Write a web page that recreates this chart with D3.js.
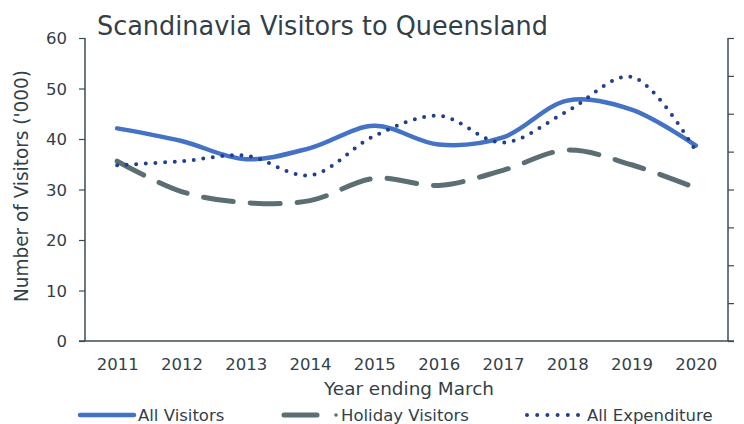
<!DOCTYPE html>
<html><head><meta charset="utf-8">
<script src="https://cdn.jsdelivr.net/npm/d3@7"></script>
<style>body{margin:0;background:#fff}svg{display:block}text{font-family:"DejaVu Sans",Verdana,sans-serif;fill:#333f48}</style>
</head><body>
<svg id="c" width="744" height="424"></svg>
<script>
const years = ["2011","2012","2013","2014","2015","2016","2017","2018","2019","2020"];
const allVisitors = [42.1, 39.6, 36.0, 38.2, 42.6, 38.9, 40.3, 47.6, 45.8, 38.7];
const holidayVisitors = [35.6, 29.6, 27.4, 27.8, 32.2, 30.8, 33.8, 37.8, 34.9, 30.3];
const allExpenditure = [34.8, 35.6, 36.7, 32.8, 40.6, 44.6, 39.3, 45.5, 52.3, 37.6];
const yTicks = [0, 10, 20, 30, 40, 50, 60];
const rightTicks = [0, 1, 2, 3, 4, 5, 6, 7, 8];
const seriesNames = ["All Visitors", "Holiday Visitors", "All Expenditure"];

const svg = d3.select("#c");
const L = 85, R = 728, T = 38, B = 341;
const x = d3.scalePoint().domain(years).range([L, R]).padding(0.5);
const y = d3.scaleLinear().domain([0, 60]).range([B, T]);
const y2 = d3.scaleLinear().domain([0, 8]).range([B, T]);
const axisColor = "#3d4a52";

// left axis
const ga = svg.append("g").attr("transform", `translate(${L},0)`)
  .call(d3.axisLeft(y).tickValues(yTicks).tickSize(6).tickPadding(12));
ga.select(".domain").attr("stroke", axisColor).attr("stroke-width", 1.5).attr("d", `M0,${T}V${B}`);
ga.selectAll(".tick line").attr("stroke", axisColor).attr("stroke-width", 1.2);
ga.selectAll(".tick text").style("font-size", "16.5px").style("fill", "#333f48").attr("dy", "0.35em");

// right axis
const gr = svg.append("g").attr("transform", `translate(${R},0)`)
  .call(d3.axisRight(y2).tickValues(rightTicks).tickSize(6).tickFormat(""));
gr.select(".domain").attr("stroke", axisColor).attr("stroke-width", 1.5).attr("d", `M0,${T}V${B}`);
gr.selectAll(".tick line").attr("stroke", axisColor).attr("stroke-width", 1.2);

// bottom axis
const gb = svg.append("g").attr("transform", `translate(0,${B})`)
  .call(d3.axisBottom(x).tickSize(0).tickPadding(17));
gb.select(".domain").attr("stroke", axisColor).attr("stroke-width", 1.5).attr("d", `M${L-6},0H${R+6}`);
gb.selectAll(".tick text").style("font-size", "16.5px").style("fill", "#333f48");

// lines
const line = d3.line().x((d, i) => x(years[i])).y(d => y(d)).curve(d3.curveCatmullRom.alpha(0.5));
svg.append("path").datum(holidayVisitors).attr("d", line).attr("fill", "none")
  .attr("stroke", "#5a6e74").attr("stroke-width", 5).attr("stroke-linecap", "round")
  .attr("stroke-dasharray", "30 17");
svg.append("path").datum(allVisitors).attr("d", line).attr("fill", "none")
  .attr("stroke", "#4472c4").attr("stroke-width", 4.5).attr("stroke-linecap", "round");
svg.append("path").datum(allExpenditure).attr("d", line).attr("fill", "none")
  .attr("stroke", "#203f8e").attr("stroke-width", 4).attr("stroke-linecap", "round")
  .attr("stroke-dasharray", "0 9.6");

// title
svg.append("text").attr("x", 97).attr("y", 35).style("font-size", "26px")
  .attr("textLength", 451).attr("lengthAdjust", "spacingAndGlyphs")
  .text("Scandinavia Visitors to Queensland");

// axis titles
svg.append("text").attr("transform", "translate(28,186) rotate(-90)").attr("text-anchor", "middle")
  .style("font-size", "19px").attr("textLength", 232).attr("lengthAdjust", "spacingAndGlyphs")
  .text("Number of Visitors ('000)");
svg.append("text").attr("x", 409).attr("y", 395).attr("text-anchor", "middle")
  .style("font-size", "18.5px").attr("textLength", 170).attr("lengthAdjust", "spacingAndGlyphs")
  .text("Year ending March");

// legend
const lg = svg.append("g");
lg.append("line").attr("x1", 80).attr("x2", 134).attr("y1", 415).attr("y2", 415)
  .attr("stroke", "#4472c4").attr("stroke-width", 4.5).attr("stroke-linecap", "round");
lg.append("text").attr("x", 138).attr("y", 421).style("font-size", "16.5px").text(seriesNames[0]);
lg.append("line").attr("x1", 284).attr("x2", 317).attr("y1", 415).attr("y2", 415)
  .attr("stroke", "#5a6e74").attr("stroke-width", 5).attr("stroke-linecap", "round");
lg.append("circle").attr("cx", 336).attr("cy", 415).attr("r", 1.8).attr("fill", "#5a6e74");
lg.append("text").attr("x", 341).attr("y", 421).style("font-size", "16.5px").text(seriesNames[1]);
lg.append("line").attr("x1", 527).attr("x2", 580).attr("y1", 415).attr("y2", 415)
  .attr("stroke", "#203f8e").attr("stroke-width", 4).attr("stroke-linecap", "round")
  .attr("stroke-dasharray", "0 10.2");
lg.append("text").attr("x", 587).attr("y", 421).style("font-size", "16.5px").text(seriesNames[2]);
</script>
</body></html>
